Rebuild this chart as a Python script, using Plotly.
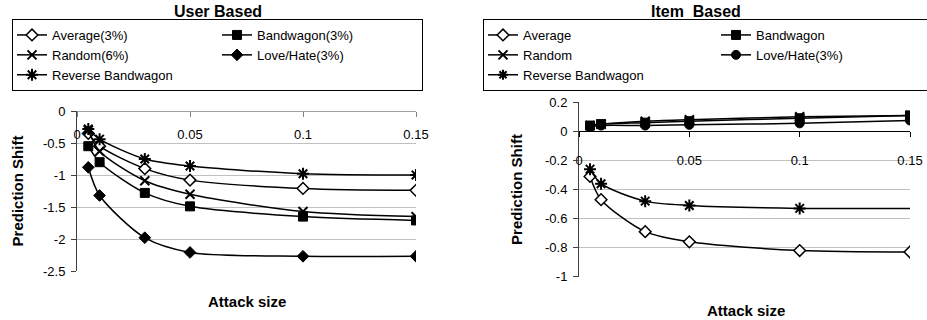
import plotly.graph_objects as go

# ---------------- data ----------------
attack_size = [0.005, 0.01, 0.03, 0.05, 0.1, 0.15]

user_average = [-0.35, -0.55, -0.90, -1.08, -1.21, -1.24]
user_bandwagon = [-0.55, -0.80, -1.28, -1.49, -1.65, -1.71]
user_random = [-0.30, -0.63, -1.09, -1.30, -1.57, -1.65]
user_lovehate = [-0.88, -1.32, -1.98, -2.21, -2.27, -2.27]
user_reverse = [-0.28, -0.44, -0.75, -0.86, -0.98, -1.00]

item_average = [-0.31, -0.47, -0.69, -0.76, -0.82, -0.83]
item_bandwagon = [0.04, 0.05, 0.06, 0.07, 0.09, 0.11]
item_random = [0.04, 0.05, 0.07, 0.08, 0.10, 0.11]
item_lovehate = [0.03, 0.04, 0.04, 0.045, 0.055, 0.075]
item_reverse = [-0.26, -0.36, -0.48, -0.51, -0.53, -0.53]

x_tickvals = [0, 0.05, 0.1, 0.15]
x_ticktext = ["0", "0.05", "0.1", "0.15"]
user_y_tickvals = [0, -0.5, -1, -1.5, -2, -2.5]
user_y_ticktext = ["0", "-0.5", "-1", "-1.5", "-2", "-2.5"]
item_y_tickvals = [0.2, 0, -0.2, -0.4, -0.6, -0.8, -1]
item_y_ticktext = ["0.2", "0", "-0.2", "-0.4", "-0.6", "-0.8", "-1"]

user_names = ["Average(3%)", "Bandwagon(3%)", "Random(6%)", "Love/Hate(3%)", "Reverse Bandwagon"]
item_names = ["Average", "Bandwagon", "Random", "Love/Hate(3%)", "Reverse Bandwagon"]

# ---------------- figure ----------------
W, H = 927, 320
FONT = "Arial, Liberation Sans, sans-serif"
BLACK = "#000000"

def px_x(p):
    return p / W

def px_y(p):
    return 1 - p / H

fig = go.Figure()

line = dict(color=BLACK, width=1.5, shape="spline", smoothing=0.8)

def mk(symbol, size=9, fill=BLACK, lw=1.5):
    return dict(symbol=symbol, size=size, color=fill, opacity=1,
                line=dict(color=BLACK, width=lw))

user_series = [
    (user_names[0], user_average, mk("diamond", 9, "white", 1.5), "u1"),
    (user_names[1], user_bandwagon, mk("square", 9, BLACK, 1), "u2"),
    (user_names[2], user_random, mk("x-thin", 9, BLACK, 2), "u1"),
    (user_names[3], user_lovehate, mk("diamond", 9, BLACK, 1), "u2"),
    (user_names[4], user_reverse, mk("asterisk", 10, BLACK, 2), "u1"),
]
for name, ys, marker, grp in user_series:
    fig.add_trace(go.Scatter(
        x=attack_size, y=ys, name=name, mode="lines+markers",
        line=line, marker=marker, xaxis="x", yaxis="y",
        legend="legend", legendgroup=grp,
    ))

rev_marker = mk("asterisk", 10, BLACK, 2)
rev_marker["size"] = [10, 10, 10, 10, 10, 0]
item_series = [
    (item_names[0], item_average, mk("diamond", 9, "white", 1.5), "i1"),
    (item_names[1], item_bandwagon, mk("square", 9, BLACK, 1), "i2"),
    (item_names[2], item_random, mk("x-thin", 9, BLACK, 2), "i1"),
    (item_names[3], item_lovehate, mk("circle", 9, BLACK, 1), "i2"),
    (item_names[4], item_reverse, rev_marker, "i1"),
]
for name, ys, marker, grp in item_series:
    fig.add_trace(go.Scatter(
        x=attack_size, y=ys, name=name, mode="lines+markers",
        line=line, marker=marker, xaxis="x2", yaxis="y2",
        legend="legend2", legendgroup=grp,
    ))

# plot areas (pixel-derived)
u_x0, u_x1 = 77, 416
u_y0, u_y1 = 111, 271
i_x0, i_x1 = 579, 910
i_y0, i_y1 = 102.3, 276.7

u_dom_y = [px_y(u_y1), px_y(u_y0)]
i_dom_y = [px_y(i_y1), px_y(i_y0)]
i_zero_pos = i_dom_y[0] + (0 - (-1)) / 1.2 * (i_dom_y[1] - i_dom_y[0])

tickfont = dict(family=FONT, size=13, color=BLACK)
titlefont = dict(family=FONT, size=15, color=BLACK, weight="bold")

common_x = dict(
    range=[0, 0.15], tickvals=x_tickvals, ticktext=x_ticktext,
    showgrid=False, zeroline=False, showline=True,
    ticks="outside", ticklen=5, tickfont=tickfont, side="bottom",
    anchor="free", fixedrange=True,
)
common_y = dict(
    showgrid=True, gridcolor="#c0c0c0", gridwidth=1, zeroline=False,
    showline=True, linecolor="#404040", linewidth=1,
    ticks="outside", ticklen=5, tickcolor="#404040", tickfont=tickfont,
    ticklabelstandoff=3,
    fixedrange=True,
)

legend_common = dict(
    orientation="h", traceorder="grouped", tracegroupgap=0,
    bordercolor=BLACK, borderwidth=1, bgcolor="rgba(255,255,255,0)",
    font=dict(family=FONT, size=13, color=BLACK),
    xanchor="left", yanchor="top", entrywidthmode="pixels",
    itemclick=False, itemdoubleclick=False,
)

fig.update_layout(
    width=W, height=H,
    margin=dict(l=0, r=0, t=0, b=0, autoexpand=False),
    paper_bgcolor="white", plot_bgcolor="white",
    showlegend=True,
    font=dict(family=FONT, color=BLACK),
    xaxis=dict(common_x, domain=[px_x(u_x0), px_x(u_x1)], position=u_dom_y[1],
               linecolor="#a0a0a0", tickcolor="#808080", ticklabelstandoff=6),
    yaxis=dict(common_y, domain=u_dom_y, range=[-2.5, 0], anchor="x",
               tickvals=user_y_tickvals, ticktext=user_y_ticktext,
               title=dict(text="Prediction Shift", font=titlefont, standoff=15)),
    xaxis2=dict(common_x, domain=[px_x(i_x0), px_x(i_x1)], position=i_zero_pos,
                linecolor=BLACK, tickcolor=BLACK, ticklabelstandoff=12),
    yaxis2=dict(common_y, domain=i_dom_y, range=[-1, 0.2], anchor="x2",
                tickvals=item_y_tickvals, ticktext=item_y_ticktext,
                title=dict(text="Prediction Shift", font=titlefont, standoff=18)),
    legend=dict(legend_common, x=px_x(12), y=px_y(19), entrywidth=160),
    legend2=dict(legend_common, x=px_x(483), y=px_y(19), entrywidth=188),
    annotations=[
        dict(text="User Based", x=px_x(217.5), y=px_y(11), xref="paper", yref="paper",
             showarrow=False, xanchor="center", yanchor="middle",
             font=dict(family=FONT, size=16, color=BLACK, weight="bold")),
        dict(text="Item  Based", x=px_x(696), y=px_y(11), xref="paper", yref="paper",
             showarrow=False, xanchor="center", yanchor="middle",
             font=dict(family=FONT, size=16, color=BLACK, weight="bold")),
        dict(text="Attack size", x=px_x(247), y=px_y(301), xref="paper", yref="paper",
             showarrow=False, xanchor="center", yanchor="middle", font=titlefont),
        dict(text="Attack size", x=px_x(745.5), y=px_y(310), xref="paper", yref="paper",
             showarrow=False, xanchor="center", yanchor="middle", font=titlefont),
    ],
)

fig.write_html("out.html")
